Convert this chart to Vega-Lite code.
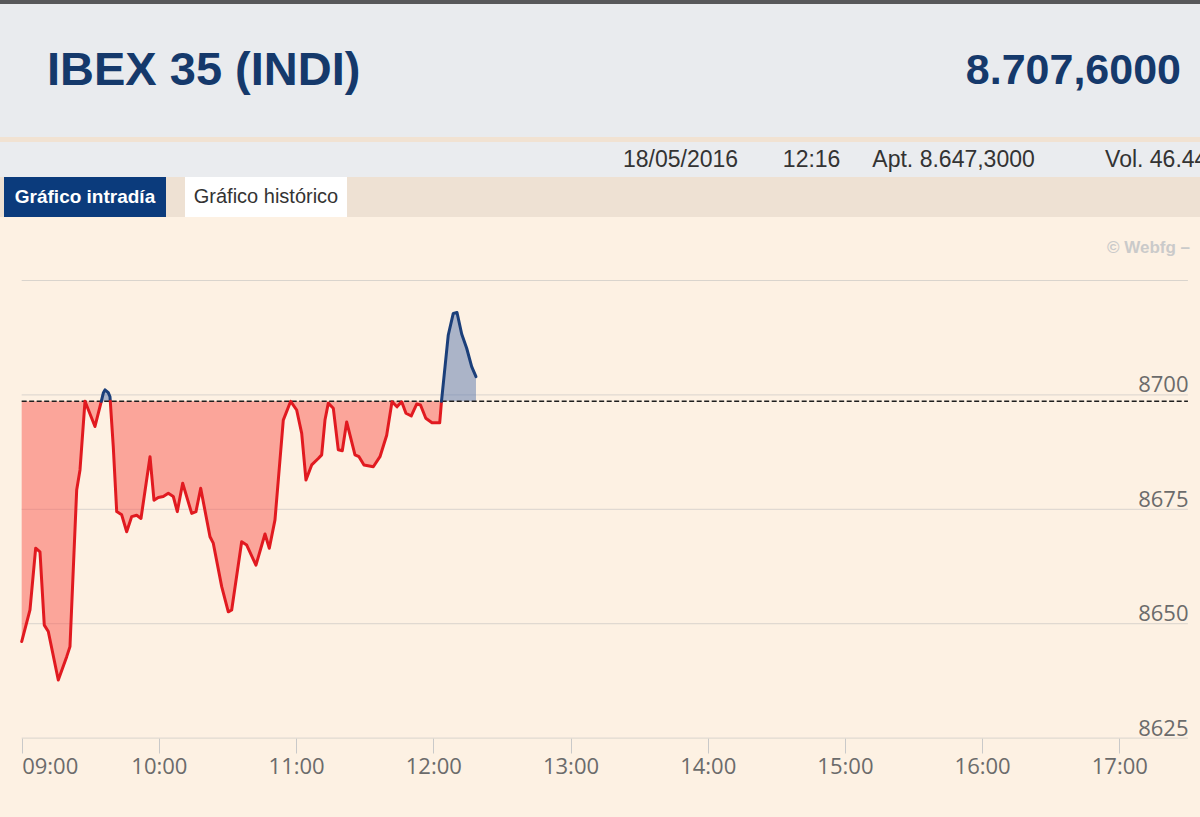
{
  "$schema": "https://vega.github.io/schema/vega-lite/v6.json",
  "padding": 0,
  "background": "#fdf1e3",
  "spacing": 0,
  "resolve": {"scale": {"fill": "independent", "stroke": "independent", "color": "independent"}},
  "config": {"view": {"stroke": null}, "concat": {"spacing": 0}, "axis": {"minExtent": 0}},
  "datasets": {
    "serie": [
      {"hora": "2016-05-18T09:00:00", "valor": 8646.1, "tramo": 1, "signo": "baja"},
      {"hora": "2016-05-18T09:03:38", "valor": 8653.0, "tramo": 1, "signo": "baja"},
      {"hora": "2016-05-18T09:06:07", "valor": 8666.5, "tramo": 1, "signo": "baja"},
      {"hora": "2016-05-18T09:08:00", "valor": 8665.7, "tramo": 1, "signo": "baja"},
      {"hora": "2016-05-18T09:09:53", "valor": 8649.7, "tramo": 1, "signo": "baja"},
      {"hora": "2016-05-18T09:11:38", "valor": 8648.3, "tramo": 1, "signo": "baja"},
      {"hora": "2016-05-18T09:16:00", "valor": 8637.7, "tramo": 1, "signo": "baja"},
      {"hora": "2016-05-18T09:19:41", "valor": 8642.8, "tramo": 1, "signo": "baja"},
      {"hora": "2016-05-18T09:21:07", "valor": 8645.0, "tramo": 1, "signo": "baja"},
      {"hora": "2016-05-18T09:24:03", "valor": 8679.2, "tramo": 1, "signo": "baja"},
      {"hora": "2016-05-18T09:25:30", "valor": 8683.6, "tramo": 1, "signo": "baja"},
      {"hora": "2016-05-18T09:27:41", "valor": 8698.6, "tramo": 1, "signo": "baja"},
      {"hora": "2016-05-18T09:32:03", "valor": 8693.1, "tramo": 1, "signo": "baja"},
      {"hora": "2016-05-18T09:34:49", "valor": 8698.6, "tramo": 1, "signo": "baja"},
      {"hora": "2016-05-18T09:34:49", "valor": 8698.6, "tramo": 2, "signo": "alza"},
      {"hora": "2016-05-18T09:35:41", "valor": 8700.4, "tramo": 2, "signo": "alza"},
      {"hora": "2016-05-18T09:36:26", "valor": 8701.1, "tramo": 2, "signo": "alza"},
      {"hora": "2016-05-18T09:37:52", "valor": 8700.5, "tramo": 2, "signo": "alza"},
      {"hora": "2016-05-18T09:38:37", "valor": 8699.6, "tramo": 2, "signo": "alza"},
      {"hora": "2016-05-18T09:38:45", "valor": 8698.6, "tramo": 2, "signo": "alza"},
      {"hora": "2016-05-18T09:38:45", "valor": 8698.6, "tramo": 3, "signo": "baja"},
      {"hora": "2016-05-18T09:40:03", "valor": 8688.7, "tramo": 3, "signo": "baja"},
      {"hora": "2016-05-18T09:41:33", "valor": 8674.5, "tramo": 3, "signo": "baja"},
      {"hora": "2016-05-18T09:43:44", "valor": 8673.8, "tramo": 3, "signo": "baja"},
      {"hora": "2016-05-18T09:45:55", "valor": 8670.1, "tramo": 3, "signo": "baja"},
      {"hora": "2016-05-18T09:48:06", "valor": 8673.4, "tramo": 3, "signo": "baja"},
      {"hora": "2016-05-18T09:50:17", "valor": 8673.7, "tramo": 3, "signo": "baja"},
      {"hora": "2016-05-18T09:52:10", "valor": 8673.0, "tramo": 3, "signo": "baja"},
      {"hora": "2016-05-18T09:56:07", "valor": 8686.5, "tramo": 3, "signo": "baja"},
      {"hora": "2016-05-18T09:57:51", "valor": 8677.0, "tramo": 3, "signo": "baja"},
      {"hora": "2016-05-18T09:59:44", "valor": 8677.6, "tramo": 3, "signo": "baja"},
      {"hora": "2016-05-18T10:01:55", "valor": 8677.8, "tramo": 3, "signo": "baja"},
      {"hora": "2016-05-18T10:04:07", "valor": 8678.5, "tramo": 3, "signo": "baja"},
      {"hora": "2016-05-18T10:06:18", "valor": 8677.8, "tramo": 3, "signo": "baja"},
      {"hora": "2016-05-18T10:08:03", "valor": 8674.5, "tramo": 3, "signo": "baja"},
      {"hora": "2016-05-18T10:10:24", "valor": 8680.7, "tramo": 3, "signo": "baja"},
      {"hora": "2016-05-18T10:14:21", "valor": 8674.1, "tramo": 3, "signo": "baja"},
      {"hora": "2016-05-18T10:16:13", "valor": 8674.5, "tramo": 3, "signo": "baja"},
      {"hora": "2016-05-18T10:18:17", "valor": 8679.6, "tramo": 3, "signo": "baja"},
      {"hora": "2016-05-18T10:22:21", "valor": 8669.0, "tramo": 3, "signo": "baja"},
      {"hora": "2016-05-18T10:23:47", "valor": 8667.6, "tramo": 3, "signo": "baja"},
      {"hora": "2016-05-18T10:27:28", "valor": 8658.1, "tramo": 3, "signo": "baja"},
      {"hora": "2016-05-18T10:30:21", "valor": 8652.6, "tramo": 3, "signo": "baja"},
      {"hora": "2016-05-18T10:31:50", "valor": 8653.0, "tramo": 3, "signo": "baja"},
      {"hora": "2016-05-18T10:36:12", "valor": 8667.9, "tramo": 3, "signo": "baja"},
      {"hora": "2016-05-18T10:38:24", "valor": 8667.2, "tramo": 3, "signo": "baja"},
      {"hora": "2016-05-18T10:42:27", "valor": 8662.8, "tramo": 3, "signo": "baja"},
      {"hora": "2016-05-18T10:46:24", "valor": 8669.6, "tramo": 3, "signo": "baja"},
      {"hora": "2016-05-18T10:48:17", "valor": 8666.5, "tramo": 3, "signo": "baja"},
      {"hora": "2016-05-18T10:50:46", "valor": 8672.7, "tramo": 3, "signo": "baja"},
      {"hora": "2016-05-18T10:52:13", "valor": 8681.4, "tramo": 3, "signo": "baja"},
      {"hora": "2016-05-18T10:54:24", "valor": 8694.5, "tramo": 3, "signo": "baja"},
      {"hora": "2016-05-18T10:57:38", "valor": 8698.6, "tramo": 3, "signo": "baja"},
      {"hora": "2016-05-18T11:00:15", "valor": 8696.7, "tramo": 3, "signo": "baja"},
      {"hora": "2016-05-18T11:02:27", "valor": 8691.6, "tramo": 3, "signo": "baja"},
      {"hora": "2016-05-18T11:04:19", "valor": 8681.4, "tramo": 3, "signo": "baja"},
      {"hora": "2016-05-18T11:06:49", "valor": 8684.7, "tramo": 3, "signo": "baja"},
      {"hora": "2016-05-18T11:09:42", "valor": 8686.1, "tramo": 3, "signo": "baja"},
      {"hora": "2016-05-18T11:11:11", "valor": 8686.9, "tramo": 3, "signo": "baja"},
      {"hora": "2016-05-18T11:12:38", "valor": 8694.5, "tramo": 3, "signo": "baja"},
      {"hora": "2016-05-18T11:14:05", "valor": 8698.2, "tramo": 3, "signo": "baja"},
      {"hora": "2016-05-18T11:16:16", "valor": 8697.1, "tramo": 3, "signo": "baja"},
      {"hora": "2016-05-18T11:18:27", "valor": 8688.0, "tramo": 3, "signo": "baja"},
      {"hora": "2016-05-18T11:20:12", "valor": 8687.8, "tramo": 3, "signo": "baja"},
      {"hora": "2016-05-18T11:22:07", "valor": 8694.1, "tramo": 3, "signo": "baja"},
      {"hora": "2016-05-18T11:25:45", "valor": 8686.9, "tramo": 3, "signo": "baja"},
      {"hora": "2016-05-18T11:27:30", "valor": 8686.5, "tramo": 3, "signo": "baja"},
      {"hora": "2016-05-18T11:29:41", "valor": 8684.7, "tramo": 3, "signo": "baja"},
      {"hora": "2016-05-18T11:33:46", "valor": 8684.3, "tramo": 3, "signo": "baja"},
      {"hora": "2016-05-18T11:36:41", "valor": 8686.5, "tramo": 3, "signo": "baja"},
      {"hora": "2016-05-18T11:39:37", "valor": 8691.2, "tramo": 3, "signo": "baja"},
      {"hora": "2016-05-18T11:41:56", "valor": 8698.5, "tramo": 3, "signo": "baja"},
      {"hora": "2016-05-18T11:44:07", "valor": 8697.4, "tramo": 3, "signo": "baja"},
      {"hora": "2016-05-18T11:46:10", "valor": 8698.5, "tramo": 3, "signo": "baja"},
      {"hora": "2016-05-18T11:48:03", "valor": 8696.0, "tramo": 3, "signo": "baja"},
      {"hora": "2016-05-18T11:50:22", "valor": 8695.4, "tramo": 3, "signo": "baja"},
      {"hora": "2016-05-18T11:52:44", "valor": 8698.0, "tramo": 3, "signo": "baja"},
      {"hora": "2016-05-18T11:54:24", "valor": 8697.8, "tramo": 3, "signo": "baja"},
      {"hora": "2016-05-18T11:56:43", "valor": 8694.9, "tramo": 3, "signo": "baja"},
      {"hora": "2016-05-18T11:59:26", "valor": 8693.9, "tramo": 3, "signo": "baja"},
      {"hora": "2016-05-18T12:02:48", "valor": 8693.9, "tramo": 3, "signo": "baja"},
      {"hora": "2016-05-18T12:03:35", "valor": 8698.6, "tramo": 3, "signo": "baja"},
      {"hora": "2016-05-18T12:03:35", "valor": 8698.6, "tramo": 4, "signo": "alza"},
      {"hora": "2016-05-18T12:06:33", "valor": 8713.1, "tramo": 4, "signo": "alza"},
      {"hora": "2016-05-18T12:08:44", "valor": 8717.8, "tramo": 4, "signo": "alza"},
      {"hora": "2016-05-18T12:10:22", "valor": 8718.0, "tramo": 4, "signo": "alza"},
      {"hora": "2016-05-18T12:12:25", "valor": 8713.3, "tramo": 4, "signo": "alza"},
      {"hora": "2016-05-18T12:14:36", "valor": 8710.2, "tramo": 4, "signo": "alza"},
      {"hora": "2016-05-18T12:16:47", "valor": 8706.2, "tramo": 4, "signo": "alza"},
      {"hora": "2016-05-18T12:18:40", "valor": 8704.0, "tramo": 4, "signo": "alza"}
    ],
    "rejilla": [{"valor": 8625}, {"valor": 8650}, {"valor": 8675}, {"valor": 8700}, {"valor": 8725}],
    "referencia": [{"valor": 8698.6, "nombre": "Cierre anterior"}]
  },
  "vconcat": [
    {
      "width": 1200, "height": 4,
      "view": {"fill": "#58585a", "stroke": null},
      "data": {"values": [{"franja": "borde superior"}]},
      "mark": {"type": "rect", "color": "#58585a"},
      "encoding": {}
    },
    {
      "width": 1200, "height": 133,
      "view": {"fill": "#e9ebee", "stroke": null},
      "layer": [
        {
          "data": {"values": [{"posicion": "nombre", "texto": "IBEX 35 (INDI)"}]},
          "mark": {"type": "text", "align": "left", "baseline": "middle", "font": "Liberation Sans", "fontSize": 47, "fontWeight": "bold", "color": "#15396b"},
          "encoding": {
            "x": {"field": "posicion", "type": "nominal", "scale": {"type": "point", "domain": ["nombre", "precio"], "range": [47, 1181], "padding": 0}, "axis": null},
            "text": {"field": "texto"}
          }
        },
        {
          "data": {"values": [{"posicion": "precio", "texto": "8.707,6000"}]},
          "mark": {"type": "text", "align": "right", "baseline": "middle", "font": "Liberation Sans", "fontSize": 43, "fontWeight": "bold", "color": "#15396b"},
          "encoding": {
            "x": {"field": "posicion", "type": "nominal", "scale": {"type": "point", "domain": ["nombre", "precio"], "range": [47, 1181], "padding": 0}, "axis": null},
            "text": {"field": "texto"}
          }
        }
      ]
    },
    {
      "width": 1200, "height": 5,
      "view": {"fill": "#f1e2d2", "stroke": null},
      "data": {"values": [{"franja": "separador"}]},
      "mark": {"type": "rect", "color": "#f1e2d2"},
      "encoding": {}
    },
    {
      "width": 1200, "height": 35,
      "view": {"fill": "#eaecef", "stroke": null},
      "data": {"values": [{"posicion": "datos", "texto": "18/05/2016\u00a0\u00a0\u00a0\u00a0\u00a0\u00a0\u00a012:16\u00a0\u00a0\u00a0\u00a0\u00a0Apt. 8.647,3000\u00a0\u00a0\u00a0\u00a0\u00a0\u00a0\u00a0\u00a0\u00a0\u00a0\u00a0Vol. 46.44"}]},
      "mark": {"type": "text", "align": "left", "baseline": "middle", "font": "Liberation Sans", "fontSize": 23, "color": "#333333", "clip": true},
      "encoding": {
        "x": {"field": "posicion", "type": "nominal", "scale": {"type": "point", "domain": ["datos"], "range": [623, 623], "padding": 0}, "axis": null},
        "text": {"field": "texto"}
      }
    },
    {
      "width": 1200, "height": 40,
      "view": {"fill": "#eee1d3", "stroke": null},
      "data": {"values": [{"pestana": "Gráfico intradía", "activa": "si"}, {"pestana": "Gráfico histórico", "activa": "no"}]},
      "encoding": {
        "x": {"field": "pestana", "type": "nominal", "sort": null, "scale": {"type": "band", "domain": ["Gráfico intradía", "Gráfico histórico"], "range": [4, 347], "paddingInner": 0.105, "paddingOuter": 0}, "axis": null}
      },
      "layer": [
        {
          "mark": {"type": "bar"},
          "encoding": {"fill": {"field": "activa", "type": "nominal", "scale": {"domain": ["si", "no"], "range": ["#0b3b7c", "#ffffff"]}, "legend": null}}
        },
        {
          "transform": [{"filter": "datum.activa === 'si'"}],
          "mark": {"type": "text", "baseline": "middle", "font": "Liberation Sans", "fontSize": 19, "fontWeight": "bold", "color": "#ffffff"},
          "encoding": {"text": {"field": "pestana"}}
        },
        {
          "transform": [{"filter": "datum.activa === 'no'"}],
          "mark": {"type": "text", "baseline": "middle", "font": "Liberation Sans", "fontSize": 20, "color": "#333333"},
          "encoding": {"text": {"field": "pestana"}}
        }
      ]
    },
    {
      "width": 1200, "height": 600,
      "view": {"fill": "#fdf1e3", "stroke": null},
      "layer": [
        {
          "data": {"name": "rejilla"},
          "mark": {"type": "rule", "color": "#d9d4cd", "strokeWidth": 1},
          "encoding": {
            "y": {"field": "valor", "type": "quantitative", "scale": {"domain": [8607.76, 8738.88], "nice": false, "zero": false}},
            "x": {"datum": {"year": 2016, "month": 5, "date": 18, "hours": 9}, "type": "temporal", "scale": {"domain": [{"year": 2016, "month": 5, "date": 18, "hours": 8, "minutes": 50, "seconds": 31}, {"year": 2016, "month": 5, "date": 18, "hours": 17, "minutes": 35, "seconds": 17}], "nice": false}},
            "x2": {"datum": {"year": 2016, "month": 5, "date": 18, "hours": 17, "minutes": 30}}
          }
        },
        {
          "data": {"name": "serie"},
          "mark": {"type": "area", "interpolate": "linear", "opacity": 0.5},
          "encoding": {
            "x": {"field": "hora", "type": "temporal", "scale": {"domain": [{"year": 2016, "month": 5, "date": 18, "hours": 8, "minutes": 50, "seconds": 31}, {"year": 2016, "month": 5, "date": 18, "hours": 17, "minutes": 35, "seconds": 17}], "nice": false},
              "axis": {"values": [{"year": 2016, "month": 5, "date": 18, "hours": 9}, {"year": 2016, "month": 5, "date": 18, "hours": 10}, {"year": 2016, "month": 5, "date": 18, "hours": 11}, {"year": 2016, "month": 5, "date": 18, "hours": 12}, {"year": 2016, "month": 5, "date": 18, "hours": 13}, {"year": 2016, "month": 5, "date": 18, "hours": 14}, {"year": 2016, "month": 5, "date": 18, "hours": 15}, {"year": 2016, "month": 5, "date": 18, "hours": 16}, {"year": 2016, "month": 5, "date": 18, "hours": 17}],
                "format": "%H:%M", "offset": -79, "domain": false, "grid": false, "ticks": true, "tickSize": 15, "tickColor": "#c9c9c9", "tickWidth": 1,
                "labelFont": "Open Sans", "labelFontSize": 22, "labelColor": "#6b6b6b", "labelPadding": 3, "labelFlush": false, "labelOverlap": false,
                "labelAlign": {"condition": {"test": "hours(datum.value) === 9", "value": "left"}, "value": "center"},
                "title": null}},
            "y": {"field": "valor", "type": "quantitative", "scale": {"domain": [8607.76, 8738.88], "nice": false, "zero": false},
              "axis": {"orient": "right", "values": [8625, 8650, 8675, 8700], "format": "d", "domain": false, "ticks": false, "grid": false,
                "labelPadding": -12, "labelAlign": "right", "labelBaseline": "alphabetic", "labelOffset": -3,
                "labelFont": "Open Sans", "labelFontSize": 22, "labelColor": "#6b6b6b", "labelFlush": false, "labelOverlap": false, "title": null}},
            "y2": {"datum": 8698.6},
            "fill": {"field": "signo", "type": "nominal", "scale": {"domain": ["baja", "alza"], "range": ["#fa5a52", "#5977ad"]}, "legend": null},
            "detail": {"field": "tramo", "type": "nominal"}
          }
        },
        {
          "data": {"name": "referencia"},
          "mark": {"type": "rule", "color": "#1e1e1e", "strokeWidth": 1.5, "strokeDash": [5, 2.5]},
          "encoding": {
            "y": {"field": "valor", "type": "quantitative", "scale": {"domain": [8607.76, 8738.88], "nice": false, "zero": false}},
            "x": {"datum": {"year": 2016, "month": 5, "date": 18, "hours": 9}, "type": "temporal", "scale": {"domain": [{"year": 2016, "month": 5, "date": 18, "hours": 8, "minutes": 50, "seconds": 31}, {"year": 2016, "month": 5, "date": 18, "hours": 17, "minutes": 35, "seconds": 17}], "nice": false}},
            "x2": {"datum": {"year": 2016, "month": 5, "date": 18, "hours": 17, "minutes": 30}}
          }
        },
        {
          "data": {"name": "serie"},
          "mark": {"type": "line", "interpolate": "linear", "strokeWidth": 3, "strokeJoin": "round", "strokeCap": "round"},
          "encoding": {
            "x": {"field": "hora", "type": "temporal", "scale": {"domain": [{"year": 2016, "month": 5, "date": 18, "hours": 8, "minutes": 50, "seconds": 31}, {"year": 2016, "month": 5, "date": 18, "hours": 17, "minutes": 35, "seconds": 17}], "nice": false}},
            "y": {"field": "valor", "type": "quantitative", "scale": {"domain": [8607.76, 8738.88], "nice": false, "zero": false}},
            "stroke": {"field": "signo", "type": "nominal", "scale": {"domain": ["baja", "alza"], "range": ["#e11a20", "#1b3f7a"]}, "legend": null},
            "detail": {"field": "tramo", "type": "nominal"}
          }
        },
        {
          "data": {"values": [{"texto": "© Webfg –"}]},
          "mark": {"type": "text", "align": "right", "baseline": "middle", "font": "Liberation Sans", "fontSize": 17, "fontWeight": "bold", "color": "#cacaca"},
          "encoding": {
            "x": {"datum": {"year": 2016, "month": 5, "date": 18, "hours": 17, "minutes": 30, "seconds": 55}, "type": "temporal", "scale": {"domain": [{"year": 2016, "month": 5, "date": 18, "hours": 8, "minutes": 50, "seconds": 31}, {"year": 2016, "month": 5, "date": 18, "hours": 17, "minutes": 35, "seconds": 17}], "nice": false}},
            "y": {"datum": 8732, "type": "quantitative", "scale": {"domain": [8607.76, 8738.88], "nice": false, "zero": false}},
            "text": {"field": "texto"}
          }
        }
      ]
    }
  ]
}
